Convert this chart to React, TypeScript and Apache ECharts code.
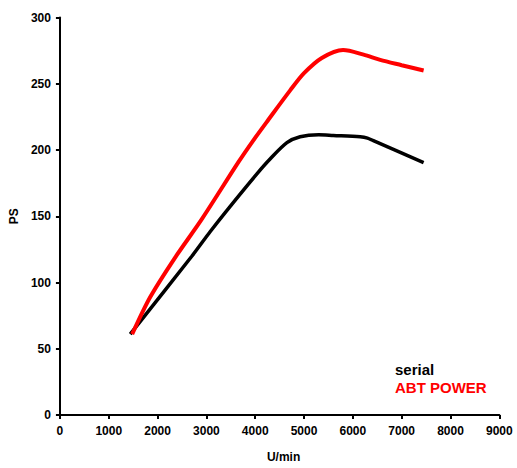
import React, { useEffect, useRef } from "react";
import * as echarts from "echarts";

const xTicks = [0, 1000, 2000, 3000, 4000, 5000, 6000, 7000, 8000, 9000];
const yTicks = [0, 50, 100, 150, 200, 250, 300];

const serialRpm = [1440, 2705, 3080, 3422, 4035, 4300, 4650, 4920, 5300, 5600, 6150, 6300, 6420, 7450];
const serialPs = [61, 120, 138.5, 154.5, 182, 193, 205.5, 210, 211.5, 211, 210, 209, 207, 190.5];

const abtRpm = [1480, 1850, 2363, 2910, 3659, 3966, 4273, 4716, 5000, 5364, 5800, 6220, 6560, 7000, 7450];
const abtPs = [61, 89, 119, 148, 191, 207.5, 223, 245, 258, 269.5, 275.5, 272, 268, 264, 260];

const seriesNames = ["serial", "ABT POWER"];
const seriesColors = ["#000000", "#ff0000"];

export default function App() {
  const ref = useRef<HTMLDivElement>(null);
  useEffect(() => {
    if (!ref.current) return;
    const chart = echarts.init(ref.current, undefined, { renderer: "svg" });
    const font = "'Liberation Sans', Arial, sans-serif";
    const axisLabel = {
      color: "#000",
      fontWeight: "bold",
      fontSize: 12,
      fontFamily: font,
      formatter: (v: number) => String(v),
    };
    chart.setOption({
      animation: false,
      backgroundColor: "#fff",
      grid: { left: 59.5, right: 17.7, top: 17.5, bottom: 49.7, containLabel: false },
      legend: {
        orient: "vertical",
        left: 385,
        top: 357,
        itemWidth: 0,
        itemHeight: 15,
        itemGap: 3,
        icon: "rect",
        itemStyle: { opacity: 0 },
        lineStyle: { opacity: 0 },
        selectedMode: false,
        textStyle: { fontSize: 15, fontWeight: "bold", fontFamily: font },
        data: seriesNames.map((n, i) => ({ name: n, textStyle: { color: seriesColors[i] } })),
      },
      xAxis: {
        type: "value",
        min: xTicks[0],
        max: xTicks[xTicks.length - 1],
        interval: 1000,
        name: "U/min",
        nameLocation: "middle",
        nameGap: 36,
        nameTextStyle: { color: "#000", fontWeight: "bold", fontSize: 12, fontFamily: font, padding: [0, 0, 0, 8] },
        axisLine: { show: true, lineStyle: { color: "#000", width: 2 } },
        axisTick: { show: true, length: 4, lineStyle: { color: "#000", width: 2 } },
        axisLabel: { ...axisLabel, margin: 10 },
        splitLine: { show: false },
      },
      yAxis: {
        type: "value",
        min: yTicks[0],
        max: yTicks[yTicks.length - 1],
        interval: 50,
        name: "PS",
        nameLocation: "middle",
        nameGap: 38,
        nameTextStyle: { color: "#000", fontWeight: "bold", fontSize: 12, fontFamily: font },
        axisLine: { show: true, lineStyle: { color: "#000", width: 2 } },
        axisTick: { show: true, length: 4, lineStyle: { color: "#000", width: 2 } },
        axisLabel: { ...axisLabel, margin: 9 },
        splitLine: { show: false },
      },
      series: [
        {
          name: seriesNames[0],
          type: "line",
          data: serialRpm.map((x, i) => [x, serialPs[i]]),
          showSymbol: false,
          smooth: 0.3,
          lineStyle: { color: seriesColors[0], width: 3.5 },
          itemStyle: { color: seriesColors[0] },
          z: 2,
        },
        {
          name: seriesNames[1],
          type: "line",
          data: abtRpm.map((x, i) => [x, abtPs[i]]),
          showSymbol: false,
          smooth: 0.3,
          lineStyle: { color: seriesColors[1], width: 4 },
          itemStyle: { color: seriesColors[1] },
          z: 3,
        },
      ],
    });
    return () => chart.dispose();
  }, []);
  return (
    <div
      ref={ref}
      style={{ position: "fixed", left: 0, top: 0, width: 517, height: 468, background: "#fff" }}
    />
  );
}
